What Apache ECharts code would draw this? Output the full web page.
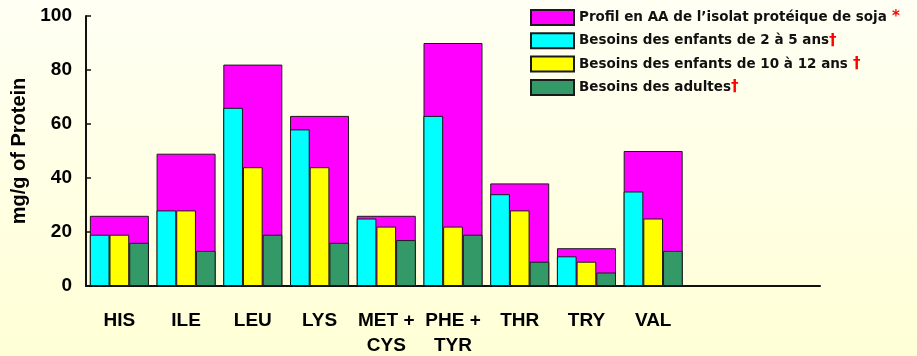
<!DOCTYPE html>
<html>
<head>
<meta charset="utf-8">
<script src="https://cdn.jsdelivr.net/npm/echarts@6/dist/echarts.min.js"></script>
<style>
  html, body { margin: 0; padding: 0; }
  #chart { width: 917px; height: 356px; }
</style>
</head>
<body>
<div id="chart"></div>
<script>
// Amino acids (two trailing empty slots keep the axis running past VAL)
const categories = ['HIS', 'ILE', 'LEU', 'LYS', 'MET +\nCYS', 'PHE +\nTYR', 'THR', 'TRY', 'VAL', '', ''];

// mg/g of protein
const sojaProfile   = [26, 49, 82, 63, 26, 90, 38, 14, 50, null, null];
const enfants2a5    = [19, 28, 66, 58, 25, 63, 34, 11, 35, null, null];
const enfants10a12  = [19, 28, 44, 44, 22, 22, 28,  9, 25, null, null];
const adultes       = [16, 13, 19, 16, 17, 19,  9,  5, 13, null, null];

const seriesNames = [
  'Profil en AA de l\u2019isolat prot\u00e9ique de soja',
  'Besoins des enfants de 2 \u00e0 5 ans',
  'Besoins des enfants de 10 \u00e0 12 ans',
  'Besoins des adultes'
];
const seriesMarks = [' *', '\u2020', ' \u2020', '\u2020'];

const yTicks = { min: 0, max: 100, interval: 20 };

const chart = echarts.init(document.getElementById('chart'));

const outline = { borderColor: '#1a1a1a', borderWidth: 1 };
const narrowWidth = 19.7;

chart.setOption({
  animation: false,
  backgroundColor: {
    type: 'linear', x: 0, y: 0, x2: 0, y2: 1,
    colorStops: [
      { offset: 0, color: '#fffff4' },
      { offset: 1, color: '#ffffd6' }
    ]
  },
  grid: { left: 86, right: 97, top: 16, bottom: 70, outerBoundsMode: 'none' },
  legend: {
    orient: 'vertical',
    left: 525,
    top: 4,
    itemWidth: 43,
    itemHeight: 15,
    itemGap: 6.3,
    icon: 'rect',
    selectedMode: false,
    data: seriesNames,
    formatter: function (name) {
      const i = seriesNames.indexOf(name);
      return '{t|' + name + '}{r|' + seriesMarks[i] + '}';
    },
    textStyle: {
      rich: {
        t: { fontFamily: '"Comic Sans MS", "DejaVu Sans", sans-serif', fontWeight: 'bold', fontSize: 13.5, lineHeight: 15, color: '#111' },
        r: { fontFamily: '"DejaVu Sans", sans-serif', fontWeight: 'bold', fontSize: 15, lineHeight: 15, color: '#ff0000' }
      }
    }
  },
  xAxis: [
    {
      type: 'category',
      data: categories,
      axisLine: { lineStyle: { color: '#111', width: 2 } },
      axisTick: { show: false },
      axisLabel: {
        interval: 0,
        margin: 22,
        fontFamily: '"Liberation Sans Narrow", "Liberation Sans", Arial, sans-serif',
        fontWeight: 'bold',
        fontSize: 19,
        lineHeight: 25,
        color: '#000'
      }
    },
    {
      type: 'category',
      data: categories,
      show: false
    }
  ],
  yAxis: {
    type: 'value',
    min: yTicks.min,
    max: yTicks.max,
    interval: yTicks.interval,
    name: 'mg/g of Protein',
    nameLocation: 'middle',
    nameGap: 52,
    nameTextStyle: {
      fontFamily: '"Liberation Sans", Arial, sans-serif',
      fontWeight: 'bold',
      fontSize: 20,
      color: '#000'
    },
    axisLine: { show: true, lineStyle: { color: '#111', width: 2 } },
    axisTick: { show: true, inside: true, length: 5, lineStyle: { color: '#111', width: 1.5 } },
    splitLine: { show: false },
    axisLabel: {
      margin: 14,
      fontFamily: '"Liberation Sans", Arial, sans-serif',
      fontWeight: 'bold',
      fontSize: 19,
      color: '#000'
    }
  },
  series: [
    {
      name: seriesNames[0],
      type: 'bar',
      xAxisIndex: 1,
      barWidth: 59,
      data: sojaProfile,
      itemStyle: Object.assign({ color: '#ff00ff' }, outline),
      z: 1
    },
    {
      name: seriesNames[1],
      type: 'bar',
      xAxisIndex: 0,
      barWidth: narrowWidth,
      barGap: '0%',
      data: enfants2a5,
      itemStyle: Object.assign({ color: '#00ffff' }, outline),
      z: 3
    },
    {
      name: seriesNames[2],
      type: 'bar',
      xAxisIndex: 0,
      barWidth: narrowWidth,
      barGap: '0%',
      data: enfants10a12,
      itemStyle: Object.assign({ color: '#ffff00' }, outline),
      z: 3
    },
    {
      name: seriesNames[3],
      type: 'bar',
      xAxisIndex: 0,
      barWidth: narrowWidth,
      barGap: '0%',
      data: adultes,
      itemStyle: Object.assign({ color: '#339966' }, outline),
      z: 3
    }
  ]
});
</script>
</body>
</html>
